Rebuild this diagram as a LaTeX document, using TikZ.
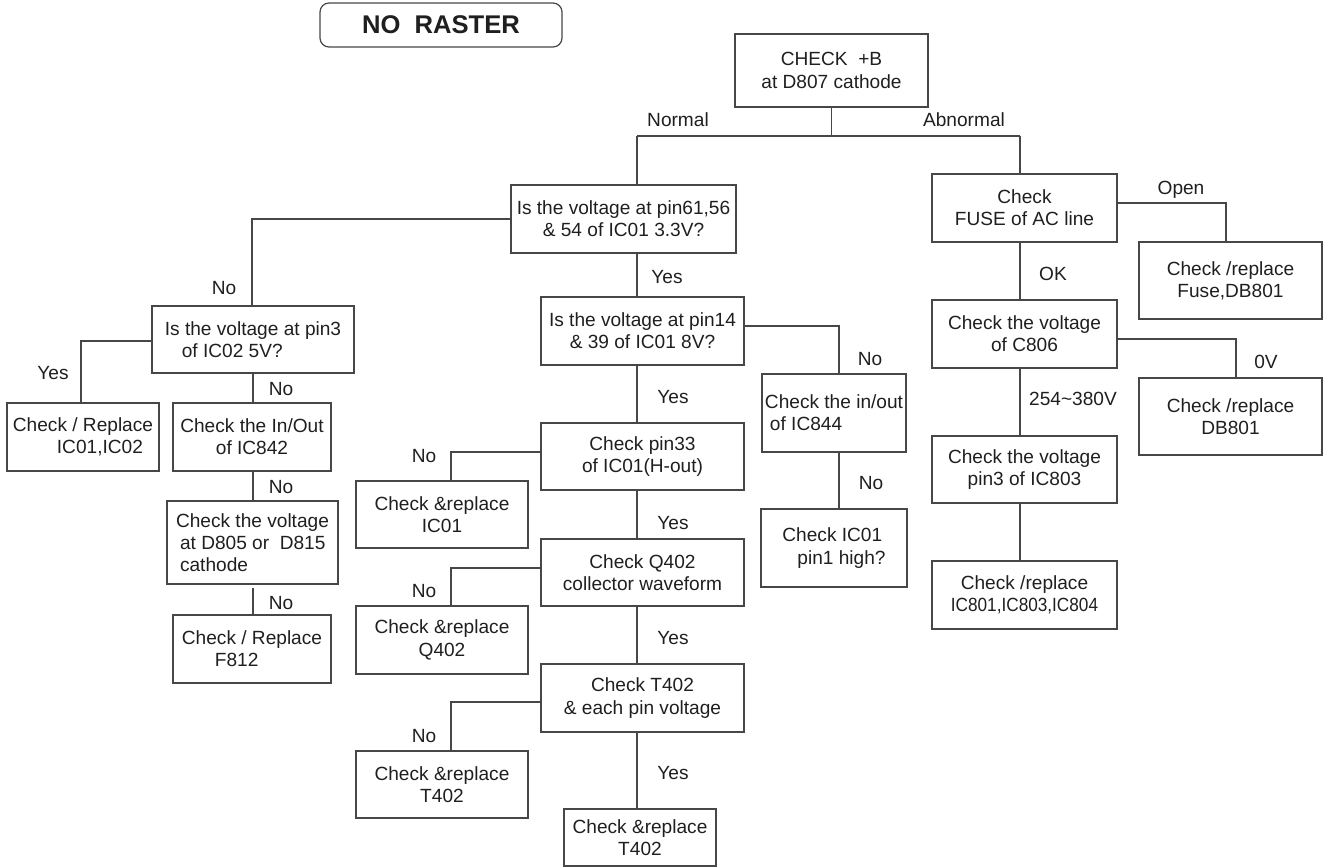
\documentclass[tikz,border=0pt]{standalone}
\usepackage{fontspec}
\usepackage{graphicx}
\setmainfont{Liberation Sans}
\begin{document}
\begin{tikzpicture}[x=0.5pt,y=-0.5pt,
  every node/.style={font=\fontsize{9.55}{11.15}\selectfont, text=black!88},
  box/.style={draw=black!72, line width=0.6pt, inner sep=0pt, align=center},
  lbl/.style={inner sep=0pt, text height=6.84pt, text depth=0pt},
  wire/.style={draw=black!72, line width=0.6pt}]
\useasboundingbox (0,0) rectangle (1329,868);

% title
\node[box, minimum width=121pt, minimum height=22pt, rounded corners=4.5pt,
      font=\fontsize{12.8}{14}\selectfont\bfseries] (title) at (441,25) {NO\ \ RASTER};

% main column
\node[box, minimum width=96.5pt, minimum height=36.5pt] (top) at (831.5,70.5) {CHECK\ \ +B\\at D807 cathode};
\node[box, minimum width=112.5pt, minimum height=34pt] (q33) at (623.5,219) {Is the voltage at pin61,56\\\& 54 of IC01 3.3V?};
\node[box, minimum width=101.5pt, minimum height=34pt] (q8) at (642.5,331) {Is the voltage at pin14\\\& 39 of IC01 8V?};
\node[box, minimum width=101.5pt, minimum height=33.5pt] (pin33) at (642.5,456.5) {Check pin33\\of IC01(H-out)};
\node[box, minimum width=101.5pt, minimum height=33.5pt] (q402) at (642.5,572.5) {Check Q402\\collector waveform};
\node[box, minimum width=101.5pt, minimum height=34pt] (t402) at (642.5,698) {Check T402\\\& each pin voltage};
\node[box, minimum width=76pt, minimum height=28.5pt] (rept402b) at (640,837.5) {Check \&replace\\T402};

% replace boxes left of the main column
\node[box, minimum width=86pt, minimum height=33.5pt] (repic01) at (442,514.5) {Check \&replace\\IC01};
\node[box, minimum width=86pt, minimum height=34pt] (repq402) at (442,640) {Check \&replace\\Q402};
\node[box, minimum width=86pt, minimum height=33.5pt] (rept402a) at (442,784.5) {Check \&replace\\T402};

% IC844 branch
\node[box, minimum width=72pt, minimum height=39pt, align=left] (io844) at (834,413) {Check the in/out\\\hspace*{2.5pt}of IC844};
\node[box, minimum width=73pt, minimum height=39pt, align=left] (pin1) at (834,548) {Check IC01\\\hspace*{7.5pt}pin1 high?};

% 5V branch
\node[box, minimum width=101pt, minimum height=33.5pt, align=left] (q5) at (253,339.5) {Is the voltage at pin3\\\hspace*{8.5pt}of IC02 5V?};
\node[box, minimum width=76pt, minimum height=34pt, align=left] (rep12) at (83,437) {Check / Replace\\\hspace*{22pt}IC01,IC02};
\node[box, minimum width=79pt, minimum height=34pt] (io842) at (252,437) {Check the In/Out\\of IC842};
\node[box, minimum width=85.5pt, minimum height=41.5pt, align=left] (d805) at (252.5,542.5) {Check the voltage\\\hspace*{2pt}at D805 or\ \ D815\\\hspace*{2pt}cathode};
\node[box, minimum width=79pt, minimum height=34pt, align=left] (f812) at (252,649) {Check / Replace\\\hspace*{16.5pt}F812};

% abnormal branch
\node[box, minimum width=92.5pt, minimum height=34pt] (fuse) at (1024.5,208) {Check\\FUSE of AC line};
\node[box, minimum width=91.5pt, minimum height=38.5pt] (repfuse) at (1230.5,280.5) {Check /replace\\Fuse,DB801};
\node[box, minimum width=92.5pt, minimum height=34pt] (c806) at (1024.5,334) {Check the voltage\\of C806};
\node[box, minimum width=91.5pt, minimum height=38.5pt] (repdb) at (1230.5,416.5) {Check /replace\\DB801};
\node[box, minimum width=92.5pt, minimum height=33.5pt] (ic803) at (1024.5,469.5) {Check the voltage\\pin3 of IC803};
\node[box, minimum width=92.5pt, minimum height=34pt] (repic) at (1024.5,595) {Check /replace\\\scalebox{0.9}[1]{IC801,IC803,IC804}};

% junctions and corners
\coordinate (jN) at (637,136);
\coordinate (jA) at (1020,136);
\coordinate (sL) at (253,0);
\coordinate (sM) at (637,0);
\coordinate (sR) at (1020,0);
\coordinate (cL) at (252,219);
\coordinate (cY) at (81,341);
\coordinate (cR) at (839,326);
\coordinate (cA) at (451,452);
\coordinate (cB) at (451,568);
\coordinate (cC) at (451,702);
\coordinate (cF) at (1226,203);
\coordinate (cD) at (1236,339);

% connectors
\draw[wire] (top.south) -- (top.south |- jN);
\draw[wire] (jN) -- (jA);
\draw[wire] (jN) -- (jN |- q33.north);
\draw[wire] (jA) -- (jA |- fuse.north);

\draw[wire] (q33.west) -- (cL) -- (cL |- q5.north);
\draw[wire] (sM |- q33.south) -- (sM |- q8.north);
\draw[wire] (sM |- q8.south) -- (sM |- pin33.north);
\draw[wire] (sM |- pin33.south) -- (sM |- q402.north);
\draw[wire] (sM |- q402.south) -- (sM |- t402.north);
\draw[wire] (sM |- t402.south) -- (sM |- rept402b.north);

\draw[wire] (cY -| q5.west) -- (cY) -- (cY |- rep12.north);
\draw[wire] (sL |- q5.south) -- (sL |- io842.north);
\draw[wire] (sL |- io842.south) -- (sL |- d805.north);
\draw[wire, shorten <=1.5pt] (sL |- d805.south) -- (sL |- f812.north);

\draw[wire] (cR -| q8.east) -- (cR) -- (cR |- io844.north);
\draw[wire] (cR |- io844.south) -- (cR |- pin1.north);

\draw[wire] (cA -| pin33.west) -- (cA) -- (cA |- repic01.north);
\draw[wire] (cB -| q402.west) -- (cB) -- (cB |- repq402.north);
\draw[wire] (cC -| t402.west) -- (cC) -- (cC |- rept402a.north);

\draw[wire] (cF -| fuse.east) -- (cF) -- (cF |- repfuse.north);
\draw[wire] (sR |- fuse.south) -- (sR |- c806.north);
\draw[wire] (cD -| c806.east) -- (cD) -- (cD |- repdb.north);
\draw[wire] (sR |- c806.south) -- (sR |- ic803.north);
\draw[wire] (sR |- ic803.south) -- (sR |- repic.north);

% branch labels
\node[lbl] (lNormal) at (678,120) {Normal};
\node[lbl] (lAbnormal) at (964,120) {Abnormal};
\node[lbl] (l1) at (224,288) {No};
\node[lbl] (l2) at (667,277) {Yes};
\node[lbl] (l3) at (53,373) {Yes};
\node[lbl] (l4) at (281,389) {No};
\node[lbl] (l5) at (281,487) {No};
\node[lbl] (l6) at (281,603) {No};
\node[lbl] (l7) at (870,359) {No};
\node[lbl] (l8) at (673,397) {Yes};
\node[lbl] (l9) at (871,483) {No};
\node[lbl] (l10) at (424,456) {No};
\node[lbl] (l11) at (673,523) {Yes};
\node[lbl] (l12) at (424,591) {No};
\node[lbl] (l13) at (673,638) {Yes};
\node[lbl] (l14) at (424,736) {No};
\node[lbl] (l15) at (673,773) {Yes};
\node[lbl] (lOpen) at (1181,188) {Open};
\node[lbl] (lOK) at (1053,274) {OK};
\node[lbl] (l0V) at (1266,362) {0V};
\node[lbl] (lV) at (1073,399) {254\char`\~380V};
\end{tikzpicture}
\end{document}
